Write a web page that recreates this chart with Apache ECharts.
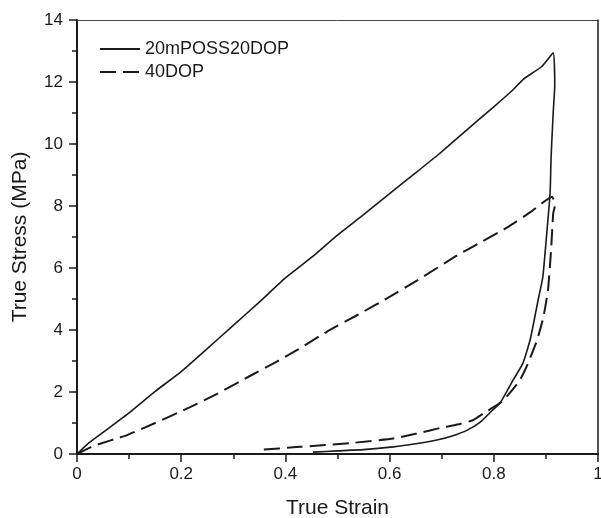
<!DOCTYPE html>
<html><head><meta charset="utf-8">
<script src="https://cdn.jsdelivr.net/npm/echarts@6/dist/echarts.min.js"></script>
<style>html,body{margin:0;padding:0;background:#fff}#c{width:601px;height:518px}</style>
</head><body><div id="c"></div>
<script>
const seriesNames = ['20mPOSS20DOP', '40DOP'];
const xTicks = [0, 0.2, 0.4, 0.6, 0.8, 1];
const yTicks = [0, 2, 4, 6, 8, 10, 12, 14];
// 20mPOSS20DOP: loading then unloading (strain, stress)
const solidStrain = [0, 0.02, 0.05, 0.1, 0.15, 0.2, 0.25, 0.3, 0.35, 0.4, 0.45, 0.5, 0.55, 0.6, 0.65, 0.7, 0.75, 0.8, 0.837, 0.856, 0.892, 0.914,
  0.917, 0.914, 0.91, 0.908, 0.9, 0.894, 0.885, 0.87, 0.856, 0.837, 0.812, 0.798, 0.774, 0.749, 0.72, 0.691, 0.65, 0.607, 0.55, 0.5, 0.453];
const solidStress = [0, 0.32, 0.7, 1.33, 2.02, 2.66, 3.4, 4.15, 4.9, 5.68, 6.34, 7.06, 7.72, 8.4, 9.07, 9.75, 10.48, 11.2, 11.75, 12.08, 12.5, 12.94,
  11.9, 11.0, 9.6, 8.4, 6.8, 5.7, 4.96, 3.7, 2.93, 2.38, 1.64, 1.42, 1.03, 0.77, 0.58, 0.45, 0.33, 0.23, 0.14, 0.1, 0.06];
// 40DOP: loading then unloading
const dashStrain = [0, 0.03, 0.096, 0.15, 0.217, 0.27, 0.33, 0.38, 0.422, 0.48, 0.54, 0.595, 0.653, 0.729, 0.774, 0.825, 0.87, 0.912,
  0.917, 0.914, 0.91, 0.904, 0.895, 0.883, 0.865, 0.85, 0.819, 0.806, 0.781, 0.76, 0.73, 0.697, 0.65, 0.607, 0.524, 0.428, 0.347];
const dashStress = [0, 0.25, 0.61, 1.0, 1.51, 1.95, 2.5, 2.95, 3.35, 3.95, 4.5, 5.02, 5.6, 6.4, 6.82, 7.3, 7.8, 8.3,
  8.0, 7.76, 6.6, 5.28, 4.4, 3.67, 2.9, 2.38, 1.74, 1.58, 1.32, 1.09, 0.95, 0.84, 0.65, 0.5, 0.35, 0.23, 0.13];

const pair = (xs, ys) => xs.map((x, i) => [x, ys[i]]);
const FONT = '"Liberation Sans", Arial, sans-serif';
const ink = '#1a1a1a';
const pick = (ticks) => v => { const t = ticks.find(k => Math.abs(k - v) < 1e-9); return t === undefined ? '' : String(t); };

const chart = echarts.init(document.getElementById('c'), null, {renderer: 'canvas'});
chart.setOption({
  animation: false,
  backgroundColor: '#fff',
  grid: {left: 77, right: 3, top: 20, bottom: 64, containLabel: false, outerBoundsMode: 'none'},
  legend: {
    orient: 'vertical', left: 94, top: 35, itemWidth: 40, itemHeight: 14, itemGap: 5,
    textStyle: {fontFamily: FONT, fontSize: 18, color: ink},
    itemStyle: {color: 'transparent', borderWidth: 0, opacity: 0},
    data: seriesNames
  },
  xAxis: [{
    type: 'value', min: xTicks[0], max: xTicks[xTicks.length - 1], interval: 0.2,
    name: 'True Strain', nameLocation: 'middle', nameGap: 44,
    nameTextStyle: {fontFamily: FONT, fontSize: 21, color: ink},
    axisLine: {show: true, onZero: false, lineStyle: {color: ink, width: 2}},
    axisTick: {show: true, inside: false, length: 8, lineStyle: {color: ink, width: 1.5}},
    minorTick: {show: true, splitNumber: 2, length: 5, lineStyle: {color: ink, width: 1.5}},
    splitLine: {show: false},
    axisLabel: {fontFamily: FONT, fontSize: 17, color: ink, margin: 12, formatter: pick(xTicks)}
  }, {
    type: 'value', position: 'top', min: 0, max: 1,
    axisLine: {show: true, onZero: false, lineStyle: {color: '#444', width: 1}},
    axisTick: {show: false}, axisLabel: {show: false}, splitLine: {show: false}
  }],
  yAxis: [{
    type: 'value', min: yTicks[0], max: yTicks[yTicks.length - 1], interval: 2,
    name: 'True Stress (MPa)', nameLocation: 'middle', nameGap: 46,
    nameTextStyle: {fontFamily: FONT, fontSize: 21, color: ink},
    axisLine: {show: true, onZero: false, lineStyle: {color: ink, width: 2}},
    axisTick: {show: true, inside: false, length: 8, lineStyle: {color: ink, width: 1.5}},
    minorTick: {show: true, splitNumber: 2, length: 5, lineStyle: {color: ink, width: 1.5}},
    splitLine: {show: false},
    axisLabel: {fontFamily: FONT, fontSize: 17, color: ink, margin: 14, formatter: pick(yTicks)}
  }, {
    type: 'value', position: 'right', min: 0, max: 14,
    axisLine: {show: true, onZero: false, lineStyle: {color: ink, width: 1.5}},
    axisTick: {show: false}, axisLabel: {show: false}, splitLine: {show: false}
  }],
  series: [
    {name: seriesNames[0], type: 'line', data: pair(solidStrain, solidStress), symbol: 'none', showSymbol: false,
     smooth: 0.15, lineStyle: {color: ink, width: 1.6, type: 'solid'}, itemStyle: {color: ink}},
    {name: seriesNames[1], type: 'line', data: pair(dashStrain, dashStress), symbol: 'none', showSymbol: false,
     smooth: 0.15, lineStyle: {color: ink, width: 2, type: [16, 7]}, itemStyle: {color: ink}}
  ]
});
</script></body></html>
